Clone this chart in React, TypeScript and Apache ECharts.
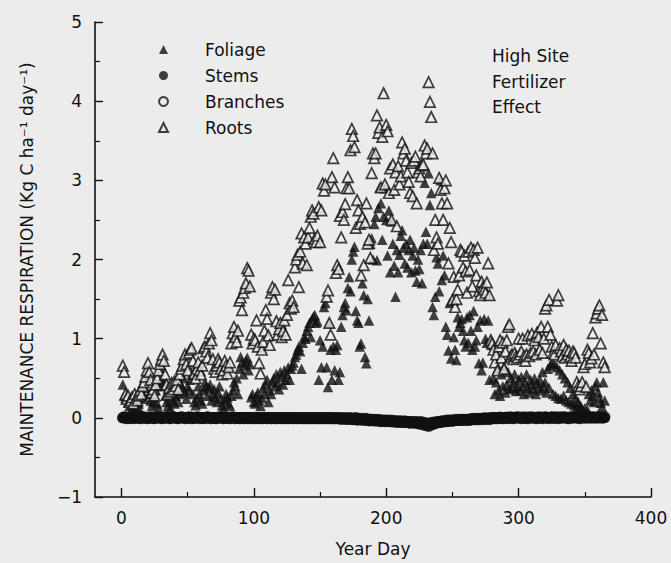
import React, { useEffect, useRef } from "react";
import * as echarts from "echarts";

// Daily values, Year Day 1..365 (Kg C ha-1 day-1)
const FOLIAGE = [
  0.42, 0.28, 0.25, 0.30, 0.20, 0.15, 0.22, 0.12, 0.18, 0.10,
  0.14, 0.20, 0.18, 0.10, 0.28, 0.32, 0.24, 0.38, 0.55, 0.48,
  0.30, 0.22, 0.15, 0.20, 0.26, 0.35, 0.18, 0.12, 0.40, 0.48,
  0.63, 0.45, 0.28, 0.20, 0.15, 0.25, 0.12, 0.30, 0.22, 0.18,
  0.28, 0.35, 0.20, 0.30, 0.42, 0.38, 0.50, 0.32, 0.24, 0.40,
  0.35, 0.48, 0.55, 0.30, 0.20, 0.16, 0.25, 0.40, 0.30, 0.22,
  0.18, 0.35, 0.45, 0.40, 0.28, 0.38, 0.42, 0.22, 0.30, 0.36,
  0.26, 0.20, 0.32, 0.40, 0.24, 0.16, 0.12, 0.22, 0.30, 0.26,
  0.18, 0.15, 0.28, 0.35, 0.45, 0.40, 0.50, 0.30, 0.62, 0.77,
  0.70, 0.55, 0.66, 0.72, 0.76, 0.60, 0.68, 0.26, 0.30, 0.20,
  0.18, 0.28, 0.32, 0.22, 0.15, 0.25, 0.38, 0.30, 0.42, 0.48,
  0.20, 0.35, 0.30, 0.45, 0.50, 0.40, 0.55, 0.45, 0.36, 0.58,
  0.52, 0.42, 0.60, 0.48, 0.55, 0.64, 0.48, 0.62, 0.66, 0.70,
  0.77, 0.80, 0.86, 0.90, 0.84, 0.62, 0.95, 1.02, 1.00, 1.10,
  1.15, 1.20, 1.02, 1.25, 1.28, 1.30, 1.20, 1.22, 0.48, 0.98,
  0.64, 0.90, 1.40, 1.45, 0.64, 0.39, 1.20, 0.86, 0.48, 0.90,
  0.60, 0.86, 0.92, 0.48, 0.58, 1.15, 1.30, 1.40, 1.45, 1.36,
  1.64, 1.78, 1.60, 2.00, 2.10, 2.16, 1.35, 1.23, 1.20, 0.90,
  0.94, 1.70, 1.55, 0.77, 0.69, 1.50, 1.23, 2.20, 2.27, 2.00,
  2.45, 2.54, 1.99, 2.65, 2.91, 2.71, 2.25, 2.54, 2.90, 2.50,
  2.05, 2.62, 1.84, 2.48, 2.20, 1.92, 1.53, 2.12, 1.84, 2.06,
  2.30, 2.37, 2.15, 1.95, 2.20, 1.90, 2.12, 2.25, 1.84, 2.05,
  2.15, 1.86, 1.72, 2.00, 1.88, 2.12, 1.70, 2.20, 2.97, 2.35,
  2.20, 3.09, 2.69, 2.84, 1.40, 1.30, 1.53, 2.03, 1.95, 1.60,
  3.00, 1.74, 2.05, 1.80, 1.15, 1.05, 0.85, 1.45, 0.75, 1.49,
  1.02, 0.86, 0.73, 1.27, 1.15, 1.20, 1.25, 1.10, 0.98, 0.90,
  1.27, 0.95, 1.30, 1.10, 0.86, 1.35, 0.90, 0.98, 1.15, 0.69,
  1.23, 0.60, 0.70, 1.25, 1.00, 0.95, 1.23, 0.48, 0.98, 0.92,
  0.50, 0.30, 0.45, 0.62, 0.35, 0.28, 0.55, 0.40, 0.65, 0.32,
  0.42, 0.58, 0.36, 0.50, 0.38, 0.45, 0.55, 0.34, 0.40, 0.48,
  0.35, 0.52, 0.40, 0.30, 0.45, 0.55, 0.38, 0.32, 0.48, 0.42,
  0.36, 0.50, 0.30, 0.44, 0.38, 0.48, 0.35, 0.58, 0.40, 0.45,
  0.32, 0.62, 0.38, 0.66, 0.70, 0.30, 0.68, 0.28, 0.64, 0.25,
  0.60, 0.24, 0.55, 0.28, 0.50, 0.22, 0.45, 0.20, 0.38, 0.18,
  0.30, 0.16, 0.25, 0.14, 0.20, 0.12, 0.15, 0.10, 0.08, 0.12,
  0.05, 0.10, 0.30, 0.22, 0.35, 0.28, 0.20, 0.40, 0.45, 0.32,
  0.25, 0.19, 0.14, 0.45, 0.22,
];

const STEMS = [
  0.00, 0.01, 0.00, -0.01, 0.00, 0.00, 0.01, 0.00, -0.01, 0.00, 0.00, 0.01, 0.00, 0.00, -0.01, 0.00, 0.01, 0.00, 0.00, -0.01,
  0.00, 0.00, 0.01, 0.00, -0.01, 0.00, 0.00, 0.01, 0.00, 0.00, -0.01, 0.00, 0.00, 0.01, 0.00, -0.01, 0.00, 0.00, 0.01, 0.00,
  0.00, -0.01, 0.00, 0.00, 0.01, 0.00, 0.00, -0.01, 0.00, 0.00, 0.01, 0.00, -0.01, 0.00, 0.00, 0.00, 0.01, 0.00, -0.01, 0.00,
  0.00, 0.00, -0.01, 0.00, 0.01, 0.00, 0.00, -0.01, 0.00, 0.00, 0.00, -0.01, 0.00, 0.01, 0.00, 0.00, -0.01, 0.00, 0.00, 0.00,
  -0.01, 0.00, 0.00, 0.01, 0.00, -0.01, 0.00, 0.00, -0.01, 0.00, 0.00, 0.00, -0.01, 0.00, 0.00, -0.01, 0.00, 0.00, -0.01, 0.00,
  -0.01, 0.00, 0.00, -0.01, 0.00, 0.00, -0.01, 0.00, 0.00, -0.01, 0.00, 0.00, -0.01, 0.00, 0.00, -0.01, 0.00, -0.01, 0.00, 0.00,
  -0.01, 0.00, 0.00, -0.01, 0.00, -0.01, 0.00, 0.00, -0.01, 0.00, 0.00, -0.01, 0.00, -0.01, 0.00, 0.00, -0.01, 0.00, -0.01, 0.00,
  -0.01, 0.00, -0.01, 0.00, -0.01, 0.00, 0.00, -0.01, 0.00, -0.01, 0.00, -0.01, 0.00, 0.00, -0.01, 0.00, -0.01, 0.00, -0.01, 0.00,
  -0.01, 0.00, -0.01, -0.01, 0.00, -0.01, 0.00, -0.01, -0.01, 0.00, -0.01, -0.01, 0.00, -0.01, -0.02, -0.01, 0.00, -0.01, -0.02, -0.01,
  -0.02, -0.01, -0.02, -0.02, -0.01, -0.02, -0.03, -0.02, -0.02, -0.03, -0.02, -0.03, -0.03, -0.02, -0.04, -0.03, -0.03, -0.04, -0.03, -0.04,
  -0.03, -0.04, -0.04, -0.03, -0.05, -0.04, -0.04, -0.05, -0.04, -0.05, -0.04, -0.05, -0.05, -0.04, -0.05, -0.05, -0.06, -0.05, -0.05, -0.06,
  -0.05, -0.06, -0.05, -0.06, -0.06, -0.05, -0.06, -0.06, -0.07, -0.07, -0.07, -0.08, -0.07, -0.07, -0.06, -0.06, -0.06, -0.05, -0.06, -0.05,
  -0.05, -0.04, -0.05, -0.04, -0.04, -0.03, -0.04, -0.03, -0.03, -0.04, -0.03, -0.03, -0.02, -0.03, -0.03, -0.02, -0.03, -0.02, -0.02, -0.03,
  -0.02, -0.02, -0.03, -0.02, -0.02, -0.01, -0.02, -0.02, -0.01, -0.02, -0.01, -0.02, -0.01, -0.01, -0.02, -0.01, -0.01, -0.02, -0.01, 0.00,
  -0.01, 0.00, -0.01, 0.00, -0.01, 0.00, 0.00, -0.01, 0.00, 0.00, -0.01, 0.00, 0.00, 0.01, 0.00, -0.01, 0.00, 0.00, 0.01, 0.00,
  0.00, -0.01, 0.00, 0.01, 0.00, 0.00, -0.01, 0.00, 0.01, 0.00, 0.00, 0.00, -0.01, 0.00, 0.01, 0.00, 0.00, -0.01, 0.00, 0.01,
  0.00, 0.00, -0.01, 0.00, 0.01, 0.00, 0.00, 0.01, 0.00, -0.01, 0.00, 0.01, 0.00, 0.00, 0.01, 0.00, 0.00, -0.01, 0.00, 0.01,
  0.00, 0.00, 0.01, 0.00, 0.00, -0.01, 0.00, 0.01, 0.00, 0.00, 0.01, 0.00, 0.00, 0.01, 0.00, 0.00, 0.01, 0.00, 0.00, 0.01,
  0.00, 0.01, 0.00, 0.00, 0.01,
];

const BRANCHES = [
  0.00, 0.00, 0.01, 0.00, 0.00, -0.01, 0.00, 0.00, 0.01, 0.00, 0.00, 0.00, -0.01, 0.00, 0.00, 0.01, 0.00, 0.00, -0.01, 0.00,
  0.01, 0.00, 0.00, -0.01, 0.00, 0.00, 0.01, 0.00, 0.00, -0.01, 0.00, 0.00, 0.01, 0.00, 0.00, 0.00, -0.01, 0.00, 0.00, 0.01,
  0.00, 0.00, -0.01, 0.00, 0.00, 0.01, 0.00, 0.00, -0.01, 0.00, 0.00, 0.00, 0.01, 0.00, -0.01, 0.00, 0.00, 0.01, 0.00, 0.00,
  -0.01, 0.00, 0.00, 0.00, 0.01, 0.00, -0.01, 0.00, 0.00, 0.00, -0.01, 0.00, 0.00, 0.00, 0.01, 0.00, -0.01, 0.00, 0.00, 0.00,
  0.00, -0.01, 0.00, 0.00, 0.00, -0.01, 0.00, 0.00, 0.00, -0.01, 0.00, -0.01, 0.00, 0.00, -0.01, 0.00, 0.00, -0.01, 0.00, 0.00,
  0.00, -0.01, 0.00, 0.00, -0.01, 0.00, -0.01, 0.00, 0.00, -0.01, 0.00, 0.00, -0.01, 0.00, -0.01, 0.00, 0.00, -0.01, 0.00, -0.01,
  0.00, 0.00, -0.01, 0.00, -0.01, 0.00, 0.00, -0.01, 0.00, -0.01, 0.00, -0.01, 0.00, 0.00, -0.01, 0.00, -0.01, 0.00, -0.01, 0.00,
  0.00, -0.01, 0.00, -0.01, 0.00, -0.01, 0.00, -0.01, -0.01, 0.00, -0.01, 0.00, -0.01, -0.01, 0.00, -0.01, 0.00, -0.01, 0.00, -0.01,
  -0.01, -0.01, 0.00, -0.01, -0.01, -0.02, -0.01, -0.01, -0.02, -0.01, -0.02, -0.01, -0.02, -0.02, -0.01, -0.02, -0.02, -0.03, -0.02, -0.02,
  -0.03, -0.02, -0.03, -0.03, -0.02, -0.03, -0.04, -0.03, -0.03, -0.04, -0.03, -0.04, -0.04, -0.03, -0.04, -0.05, -0.04, -0.04, -0.05, -0.04,
  -0.04, -0.05, -0.04, -0.05, -0.05, -0.04, -0.05, -0.06, -0.05, -0.05, -0.06, -0.05, -0.06, -0.06, -0.05, -0.06, -0.06, -0.07, -0.06, -0.06,
  -0.07, -0.06, -0.07, -0.07, -0.08, -0.07, -0.08, -0.09, -0.08, -0.10, -0.09, -0.11, -0.10, -0.09, -0.08, -0.08, -0.07, -0.07, -0.06, -0.06,
  -0.06, -0.05, -0.05, -0.05, -0.04, -0.05, -0.04, -0.04, -0.04, -0.03, -0.04, -0.03, -0.03, -0.03, -0.02, -0.03, -0.02, -0.03, -0.02, -0.02,
  -0.03, -0.02, -0.02, -0.01, -0.02, -0.02, -0.01, -0.02, -0.01, -0.01, -0.02, -0.01, -0.01, 0.00, -0.01, -0.01, 0.00, -0.01, 0.00, -0.01,
  0.00, 0.00, -0.01, 0.00, 0.00, 0.01, 0.00, 0.00, -0.01, 0.00, 0.01, 0.00, 0.00, 0.00, -0.01, 0.00, 0.00, 0.01, 0.00, 0.00,
  0.01, 0.00, 0.00, 0.00, -0.01, 0.00, 0.01, 0.00, 0.00, 0.00, 0.01, 0.00, 0.00, -0.01, 0.00, 0.00, 0.01, 0.00, 0.00, 0.00,
  0.01, 0.00, 0.00, 0.00, 0.01, 0.00, -0.01, 0.00, 0.00, 0.01, 0.00, 0.00, 0.00, 0.01, 0.00, 0.00, -0.01, 0.00, 0.01, 0.00,
  0.00, 0.01, 0.00, 0.00, 0.00, 0.01, 0.00, 0.00, 0.01, 0.00, 0.00, 0.00, 0.01, 0.00, 0.00, 0.01, 0.00, 0.00, 0.00, 0.01,
  0.00, 0.00, 0.01, 0.00, 0.00,
];

const ROOTS = [
  0.66, 0.58, 0.30, 0.24, 0.28, 0.20, 0.22, 0.26, 0.18, 0.30,
  0.25, 0.22, 0.28, 0.35, 0.30, 0.40, 0.45, 0.52, 0.60, 0.69,
  0.58, 0.48, 0.32, 0.36, 0.28, 0.42, 0.50, 0.60, 0.68, 0.74,
  0.80, 0.72, 0.55, 0.42, 0.30, 0.38, 0.33, 0.44, 0.36, 0.46,
  0.40, 0.48, 0.36, 0.55, 0.62, 0.66, 0.74, 0.80, 0.68, 0.60,
  0.82, 0.86, 0.88, 0.72, 0.56, 0.50, 0.62, 0.70, 0.60, 0.55,
  0.66, 0.88, 0.90, 0.84, 0.76, 0.94, 1.07, 0.98, 0.74, 0.62,
  0.58, 0.66, 0.74, 0.70, 0.62, 0.55, 0.60, 0.72, 0.66, 0.56,
  0.64, 0.70, 0.94, 1.07, 1.15, 1.02, 0.96, 1.10, 1.48, 1.52,
  1.36, 1.58, 1.64, 1.70, 1.89, 1.86, 1.66, 1.05, 0.94, 1.00,
  0.98, 1.23, 0.90, 0.69, 0.56, 0.86, 0.96, 1.10, 1.36, 1.25,
  1.04, 0.92, 1.58, 1.65, 1.50, 1.62, 1.22, 1.05, 1.12, 1.20,
  1.02, 1.10, 1.23, 1.05, 1.30, 1.74, 1.45, 1.38, 1.48, 1.40,
  1.90, 2.00, 2.06, 1.65, 2.10, 2.33, 1.95, 2.28, 2.20, 1.93,
  2.28, 2.40, 2.54, 2.62, 2.58, 2.26, 2.22, 2.30, 2.66, 2.22,
  2.62, 2.96, 2.87, 2.95, 1.53, 1.61, 1.20, 1.05, 3.04, 3.28,
  2.91, 1.83, 1.93, 1.88, 2.55, 2.28, 2.60, 2.50, 2.70, 2.90,
  3.04, 2.90, 3.38, 3.65, 3.56, 3.42, 2.40, 2.75, 2.62, 2.45,
  1.80, 2.54, 1.93, 2.47, 2.71, 2.20, 2.25, 2.02, 3.09, 3.34,
  3.28, 3.34, 3.82, 3.60, 3.67, 2.91, 3.55, 4.10, 2.95, 3.70,
  3.62, 2.84, 3.15, 2.50, 3.20, 2.88, 3.10, 2.42, 3.18, 2.95,
  3.05, 3.48, 3.34, 3.40, 3.25, 3.10, 2.98, 2.84, 3.22, 2.80,
  3.25, 3.30, 2.71, 3.10, 3.15, 3.05, 3.19, 3.20, 3.44, 3.34,
  3.40, 4.24, 3.99, 3.80, 3.34, 2.12, 2.50, 2.28, 2.20, 3.03,
  2.88, 2.71, 2.50, 2.90, 3.00, 2.71, 1.95, 2.40, 2.22, 1.49,
  1.78, 1.40, 1.50, 1.62, 1.80, 2.12, 2.10, 1.90, 2.05, 1.85,
  1.58, 2.10, 1.87, 2.15, 1.66, 2.12, 2.02, 1.80, 2.15, 1.60,
  1.55, 1.72, 1.65, 1.62, 1.58, 1.71, 1.95, 1.55, 0.98, 0.94,
  0.86, 0.70, 0.80, 0.60, 0.90, 0.98, 0.76, 0.95, 0.62, 0.84,
  0.98, 1.15, 1.18, 0.78, 0.80, 0.74, 0.82, 0.78, 0.76, 1.00,
  0.80, 0.84, 1.00, 0.78, 0.72, 0.80, 1.04, 0.78, 0.82, 1.06,
  0.84, 0.98, 0.80, 1.08, 1.02, 0.86, 1.15, 0.82, 1.00, 1.38,
  1.42, 1.15, 1.49, 1.05, 0.90, 0.82, 0.80, 0.92, 1.48, 1.55,
  0.88, 0.84, 0.78, 0.92, 0.76, 0.86, 0.80, 0.85, 0.78, 0.72,
  0.84, 0.82, 0.76, 0.45, 0.40, 0.36, 0.40, 0.45, 0.64, 0.68,
  0.39, 0.86, 0.82, 0.70, 0.75, 1.07, 0.80, 1.27, 1.32, 1.38,
  1.42, 0.94, 1.30, 0.70, 0.64,
];

const SERIES_NAMES = ["Foliage", "Stems", "Branches", "Roots"];
const X_TICKS = [0, 100, 200, 300, 400];
const X_MINOR_TICKS = [50, 150, 250, 350];
const NOTE_LINES = ["High Site", "Fertilizer", "Effect"];
const X_TITLE = "Year Day";
const Y_TITLE = "MAINTENANCE RESPIRATION (Kg C ha\u207B\u00B9 day\u207B\u00B9)";

const BG = "#ececec";
const INK = "#111111";
const FONT = "DejaVu Sans";

const toPoints = (vals: number[]) => vals.map((v, i) => [i + 1, v]);

export default function App() {
  const ref = useRef<HTMLDivElement>(null);

  useEffect(() => {
    document.body.style.margin = "0";
    document.body.style.background = BG;
    const chart = echarts.init(ref.current!, null, { renderer: "svg" });
    chart.setOption({
      animation: false,
      backgroundColor: BG,
      textStyle: { fontFamily: FONT, color: INK },
      grid: { left: 95, right: 20, top: 22, bottom: 66 },
      xAxis: [
        {
          type: "value",
          min: -20,
          max: 400,
          axisLine: { show: true, onZero: false, lineStyle: { color: INK, width: 1.6 } },
          axisTick: { show: true, inside: true, length: 9, customValues: X_TICKS, lineStyle: { color: INK, width: 1.4 } },
          axisLabel: { customValues: X_TICKS, fontSize: 17, color: INK, margin: 12, fontFamily: FONT },
          splitLine: { show: false },
          name: X_TITLE,
          nameLocation: "middle",
          nameGap: 43,
          nameTextStyle: { fontSize: 17, color: INK, fontFamily: FONT },
        },
        {
          type: "value",
          min: -20,
          max: 400,
          position: "bottom",
          axisLine: { show: false, onZero: false },
          axisTick: { show: true, inside: true, length: 5, customValues: X_MINOR_TICKS, lineStyle: { color: INK, width: 1.2 } },
          axisLabel: { show: false },
          splitLine: { show: false },
        },
      ],
      yAxis: {
        type: "value",
        min: -1,
        max: 5,
        interval: 1,
        axisLine: { show: true, onZero: false, lineStyle: { color: INK, width: 1.6 } },
        axisTick: { show: true, inside: true, length: 8, lineStyle: { color: INK, width: 1.4 } },
        minorTick: { show: true, splitNumber: 2, length: 5, lineStyle: { color: INK, width: 1.2 } },
        axisLabel: {
          fontSize: 17,
          color: INK,
          margin: 13,
          fontFamily: FONT,
          formatter: (v: number) => String(v).replace("-", "\u2212"),
        },
        splitLine: { show: false },
        name: Y_TITLE,
        nameLocation: "middle",
        nameRotate: 90,
        nameGap: 60,
        nameTextStyle: { fontSize: 17, color: INK, fontFamily: FONT },
      },
      legend: {
        orient: "vertical",
        left: 153,
        top: 36,
        itemWidth: 9,
        itemHeight: 9,
        itemGap: 9,
        selectedMode: false,
        data: SERIES_NAMES,
        formatter: "{t|{name}}",
        textStyle: {
          rich: { t: { padding: [0, 0, 0, 32], fontSize: 17, lineHeight: 17, color: INK, fontFamily: FONT } },
        },
      },
      graphic: NOTE_LINES.map((t, i) => ({
        type: "text",
        x: 492,
        y: 56 + i * 25.5,
        style: { text: t, fontSize: 17, fill: INK, fontFamily: FONT, verticalAlign: "middle" },
      })),
      series: [
        {
          name: SERIES_NAMES[0],
          type: "scatter",
          symbol: "triangle",
          symbolSize: 10.5,
          itemStyle: { color: INK },
          data: toPoints(FOLIAGE),
        },
        {
          name: SERIES_NAMES[1],
          type: "scatter",
          symbol: "circle",
          symbolSize: 11.5,
          itemStyle: { color: INK },
          data: toPoints(STEMS),
        },
        {
          name: SERIES_NAMES[2],
          type: "scatter",
          symbol: "circle",
          symbolSize: 9.5,
          itemStyle: { color: "rgba(0,0,0,0)", borderColor: INK, borderWidth: 1.4 },
          data: toPoints(BRANCHES),
        },
        {
          name: SERIES_NAMES[3],
          type: "scatter",
          symbol: "triangle",
          symbolSize: 10.5,
          itemStyle: { color: BG, borderColor: INK, borderWidth: 1.7 },
          data: toPoints(ROOTS),
        },
      ],
    });
    return () => chart.dispose();
  }, []);

  return <div ref={ref} style={{ width: 671, height: 563 }} />;
}
